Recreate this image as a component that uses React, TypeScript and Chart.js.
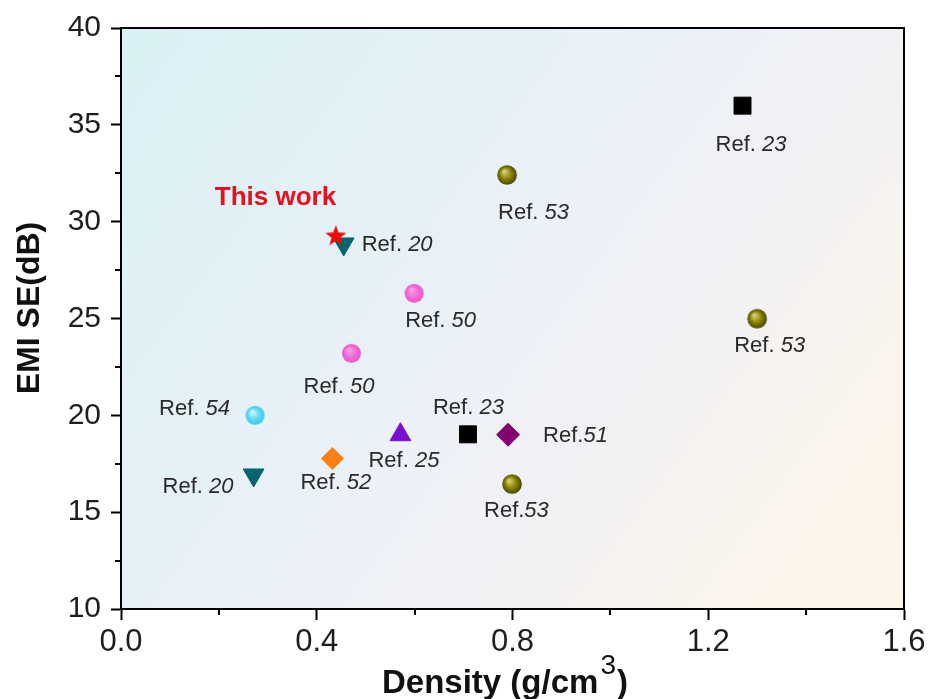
import React, { useEffect, useRef } from 'react';
import { Chart, registerables } from 'chart.js';

Chart.register(...registerables);

// ---------- data ----------
const thisWorkX = [0.439];
const thisWorkY = [29.3];
const thisWorkLabels = ['This work'];

const ref20X = [0.455, 0.271];
const ref20Y = [28.85, 16.92];
const ref20Labels = ['Ref. 20', 'Ref. 20'];

const ref50X = [0.599, 0.471];
const ref50Y = [26.3, 23.2];
const ref50Labels = ['Ref. 50', 'Ref. 50'];

const ref54X = [0.274];
const ref54Y = [20.0];
const ref54Labels = ['Ref. 54'];

const ref52X = [0.432];
const ref52Y = [17.77];
const ref52Labels = ['Ref. 52'];

const ref25X = [0.571];
const ref25Y = [19.0];
const ref25Labels = ['Ref. 25'];

const ref23X = [0.709, 1.27];
const ref23Y = [19.02, 35.99];
const ref23Labels = ['Ref. 23', 'Ref. 23'];

const ref51X = [0.791];
const ref51Y = [19.0];
const ref51Labels = ['Ref.51'];

const ref53X = [0.799, 0.789, 1.3];
const ref53Y = [16.45, 32.41, 24.99];
const ref53Labels = ['Ref.53', 'Ref. 53', 'Ref. 53'];

const xTickValues = [0, 0.4, 0.8, 1.2, 1.6];
const xMinorTicks = [0.2, 0.6, 1.0, 1.4];
const yTickValues = [10, 15, 20, 25, 30, 35, 40];
const yMinorTicks = [12.5, 17.5, 22.5, 27.5, 32.5, 37.5];

const xTitle = 'Density (g/cm';
const xTitleSup = '3';
const xTitleEnd = ')';
const yTitle = 'EMI SE(dB)';

// ---------- label placement (pixel offsets of text left/baseline from the marker) ----------
const thisWorkOff = [[-121, -30]];
const ref20Off = [[18, 7], [-91, 18]];
const ref50Off = [[-9, 34], [-48, 40]];
const ref54Off = [[-96, 0]];
const ref52Off = [[-32, 30]];
const ref25Off = [[-32, 32]];
const ref23Off = [[-35, -20], [-27, 45]];
const ref51Off = [[35, 7]];
const ref53Off = [[-28, 33], [-9, 44], [-23, 33]];

const FONT = '"Liberation Sans", Arial, Helvetica, sans-serif';

function zip(xs: number[], ys: number[]) {
  return xs.map((x, i) => ({ x, y: ys[i] }));
}

function makeSphere(r: number, hi: string, base: string, dark: string) {
  const c = document.createElement('canvas');
  const d = Math.ceil(2 * r + 2);
  c.width = d;
  c.height = d;
  const g = c.getContext('2d')!;
  const cx = d / 2;
  const grad = g.createRadialGradient(cx - r * 0.3, cx - r * 0.35, r * 0.1, cx, cx, r);
  grad.addColorStop(0, hi);
  grad.addColorStop(0.55, base);
  grad.addColorStop(1, dark);
  g.fillStyle = grad;
  g.beginPath();
  g.arc(cx, cx, r, 0, Math.PI * 2);
  g.fill();
  return c;
}

function makeStar(r: number, color: string) {
  const c = document.createElement('canvas');
  const d = Math.ceil(2 * r + 2);
  c.width = d;
  c.height = d;
  const g = c.getContext('2d')!;
  const cx = d / 2;
  const cy = d / 2 + r * 0.1;
  g.fillStyle = color;
  g.beginPath();
  for (let i = 0; i < 10; i++) {
    const rr = i % 2 === 0 ? r : r * 0.42;
    const a = -Math.PI / 2 + (i * Math.PI) / 5;
    const px = cx + rr * Math.cos(a);
    const py = cy + rr * Math.sin(a);
    if (i === 0) g.moveTo(px, py);
    else g.lineTo(px, py);
  }
  g.closePath();
  g.fill();
  return c;
}

export default function App() {
  const ref = useRef<HTMLCanvasElement | null>(null);

  useEffect(() => {
    if (!ref.current) return;

    const star = makeStar(11, '#ee0a0a');
    const pink = makeSphere(9.5, '#ff9fea', '#f56ad6', '#e45ac6');
    const cyan = makeSphere(9.5, '#c8f6ff', '#62d8f2', '#3cc8ea');
    const olive = makeSphere(9.8, '#d6cf6a', '#868000', '#4a4600');

    const labelSets: { labels: string[]; off: number[][]; special?: boolean }[] = [
      { labels: thisWorkLabels, off: thisWorkOff, special: true },
      { labels: ref20Labels, off: ref20Off },
      { labels: ref50Labels, off: ref50Off },
      { labels: ref54Labels, off: ref54Off },
      { labels: ref52Labels, off: ref52Off },
      { labels: ref25Labels, off: ref25Off },
      { labels: ref23Labels, off: ref23Off },
      { labels: ref51Labels, off: ref51Off },
      { labels: ref53Labels, off: ref53Off },
    ];

    const deco = {
      id: 'deco',
      beforeDraw(chart: any) {
        const { ctx, chartArea: a } = chart;
        ctx.save();
        const g = ctx.createLinearGradient(a.left, a.top, a.right, a.bottom);
        g.addColorStop(0, '#d9f1f4');
        g.addColorStop(0.35, '#e6f1f7');
        g.addColorStop(0.5, '#edf1f8');
        g.addColorStop(0.65, '#f2f1f4');
        g.addColorStop(0.82, '#f9f4ed');
        g.addColorStop(1, '#fef5e9');
        ctx.fillStyle = g;
        ctx.fillRect(a.left, a.top, a.right - a.left, a.bottom - a.top);
        ctx.restore();
      },
      afterDraw(chart: any) {
        const { ctx, chartArea: a } = chart;
        const xs = chart.scales.x;
        const ys = chart.scales.y;
        ctx.save();
        ctx.strokeStyle = '#000';
        ctx.lineWidth = 2;
        ctx.beginPath();
        ctx.moveTo(a.left, a.top);
        ctx.lineTo(a.right, a.top);
        ctx.lineTo(a.right, a.bottom);
        ctx.stroke();
        // minor ticks
        ctx.beginPath();
        xMinorTicks.forEach((v) => {
          const px = Math.round(xs.getPixelForValue(v));
          ctx.moveTo(px, a.bottom);
          ctx.lineTo(px, a.bottom + 6);
        });
        yMinorTicks.forEach((v) => {
          const py = Math.round(ys.getPixelForValue(v));
          ctx.moveTo(a.left, py);
          ctx.lineTo(a.left - 6, py);
        });
        ctx.stroke();

        // axis titles
        ctx.fillStyle = '#111';
        ctx.textBaseline = 'alphabetic';
        ctx.textAlign = 'left';
        ctx.font = `bold 33px ${FONT}`;
        let x0 = 382;
        ctx.fillText(xTitle, x0, 693);
        x0 += ctx.measureText(xTitle).width + 2;
        ctx.font = `28px ${FONT}`;
        ctx.fillText(xTitleSup, x0, 674);
        x0 += ctx.measureText(xTitleSup).width + 1;
        ctx.font = `bold 33px ${FONT}`;
        ctx.fillText(xTitleEnd, x0, 693);

        ctx.save();
        ctx.translate(39, 308);
        ctx.rotate(-Math.PI / 2);
        ctx.textAlign = 'center';
        ctx.font = `bold 32px ${FONT}`;
        ctx.fillText(yTitle, 0, 0);
        ctx.restore();

        // point labels
        labelSets.forEach((set, di) => {
          const meta = chart.getDatasetMeta(di);
          set.labels.forEach((txt, pi) => {
            const el = meta.data[pi];
            if (!el) return;
            const lx = el.x + set.off[pi][0];
            const ly = el.y + set.off[pi][1];
            ctx.textAlign = 'left';
            if (set.special) {
              ctx.fillStyle = '#e8101c';
              ctx.font = `bold 26px ${FONT}`;
              ctx.fillText(txt, lx, ly);
              return;
            }
            const m = txt.match(/^(Ref\.\s?)(\d+)$/);
            const pre = m ? m[1] : txt;
            const num = m ? m[2] : '';
            ctx.fillStyle = '#2a2a2a';
            ctx.font = `22px ${FONT}`;
            ctx.fillText(pre, lx, ly);
            const w = ctx.measureText(pre).width;
            ctx.font = `italic 22px ${FONT}`;
            ctx.fillText(num, lx + w, ly);
          });
        });
        ctx.restore();
      },
    };

    const chart = new Chart(ref.current, {
      type: 'scatter',
      data: {
        datasets: [
          { label: 'This work', data: zip(thisWorkX, thisWorkY), pointStyle: star as any, pointRadius: 11 },
          {
            label: 'Ref. 20',
            data: zip(ref20X, ref20Y),
            pointStyle: 'triangle',
            rotation: 180,
            pointRadius: 12,
            backgroundColor: '#06646e',
            borderColor: '#06646e',
            borderWidth: 1,
          },
          { label: 'Ref. 50', data: zip(ref50X, ref50Y), pointStyle: pink as any, pointRadius: 10 },
          { label: 'Ref. 54', data: zip(ref54X, ref54Y), pointStyle: cyan as any, pointRadius: 10 },
          {
            label: 'Ref. 52',
            data: zip(ref52X, ref52Y),
            pointStyle: 'rectRot',
            pointRadius: 11,
            backgroundColor: '#ff8012',
            borderColor: '#ff8012',
            borderWidth: 1,
          },
          {
            label: 'Ref. 25',
            data: zip(ref25X, ref25Y),
            pointStyle: 'triangle',
            pointRadius: 12,
            backgroundColor: '#7810d4',
            borderColor: '#7810d4',
            borderWidth: 1,
          },
          {
            label: 'Ref. 23',
            data: zip(ref23X, ref23Y),
            pointStyle: 'rect',
            pointRadius: 12,
            backgroundColor: '#000',
            borderColor: '#000',
            borderWidth: 1,
          },
          {
            label: 'Ref. 51',
            data: zip(ref51X, ref51Y),
            pointStyle: 'rectRot',
            pointRadius: 11.5,
            backgroundColor: '#820072',
            borderColor: '#820072',
            borderWidth: 1,
          },
          { label: 'Ref. 53', data: zip(ref53X, ref53Y), pointStyle: olive as any, pointRadius: 10 },
        ],
      },
      options: {
        animation: false,
        responsive: true,
        maintainAspectRatio: false,
        layout: { padding: { top: 28, right: 24, left: 0, bottom: 0 } },
        plugins: { legend: { display: false }, tooltip: { enabled: false } },
        scales: {
          x: {
            type: 'linear',
            min: 0,
            max: 1.6,
            afterBuildTicks: (s: any) => {
              s.ticks = xTickValues.map((v) => ({ value: v }));
            },
            afterFit: (s: any) => {
              s.height = 90;
              s.paddingRight = 0;
              s.paddingLeft = 0;
            },
            grid: { drawOnChartArea: false, drawTicks: true, tickLength: 11, tickWidth: 2, tickColor: '#000' },
            border: { display: true, color: '#000', width: 2 },
            ticks: {
              autoSkip: false,
              maxRotation: 0,
              padding: 4,
              color: '#1e1e1e',
              font: { family: FONT, size: 31 },
              callback: (v: any) => Number(v).toFixed(1),
            },
          },
          y: {
            type: 'linear',
            min: 10,
            max: 40,
            afterBuildTicks: (s: any) => {
              s.ticks = yTickValues.map((v) => ({ value: v }));
            },
            afterFit: (s: any) => {
              s.width = 121;
              s.paddingTop = 0;
              s.paddingBottom = 0;
            },
            grid: { drawOnChartArea: false, drawTicks: true, tickLength: 10, tickWidth: 2, tickColor: '#000' },
            border: { display: true, color: '#000', width: 2 },
            ticks: {
              autoSkip: false,
              padding: 10,
              color: '#1e1e1e',
              font: { family: FONT, size: 30 },
              callback: (v: any) => String(v),
            },
          },
        },
      },
      plugins: [deco],
    });

    return () => chart.destroy();
  }, []);

  return (
    <div style={{ position: 'absolute', left: 0, top: 0, width: 928, height: 699, background: '#fff' }}>
      <canvas ref={ref} />
    </div>
  );
}
